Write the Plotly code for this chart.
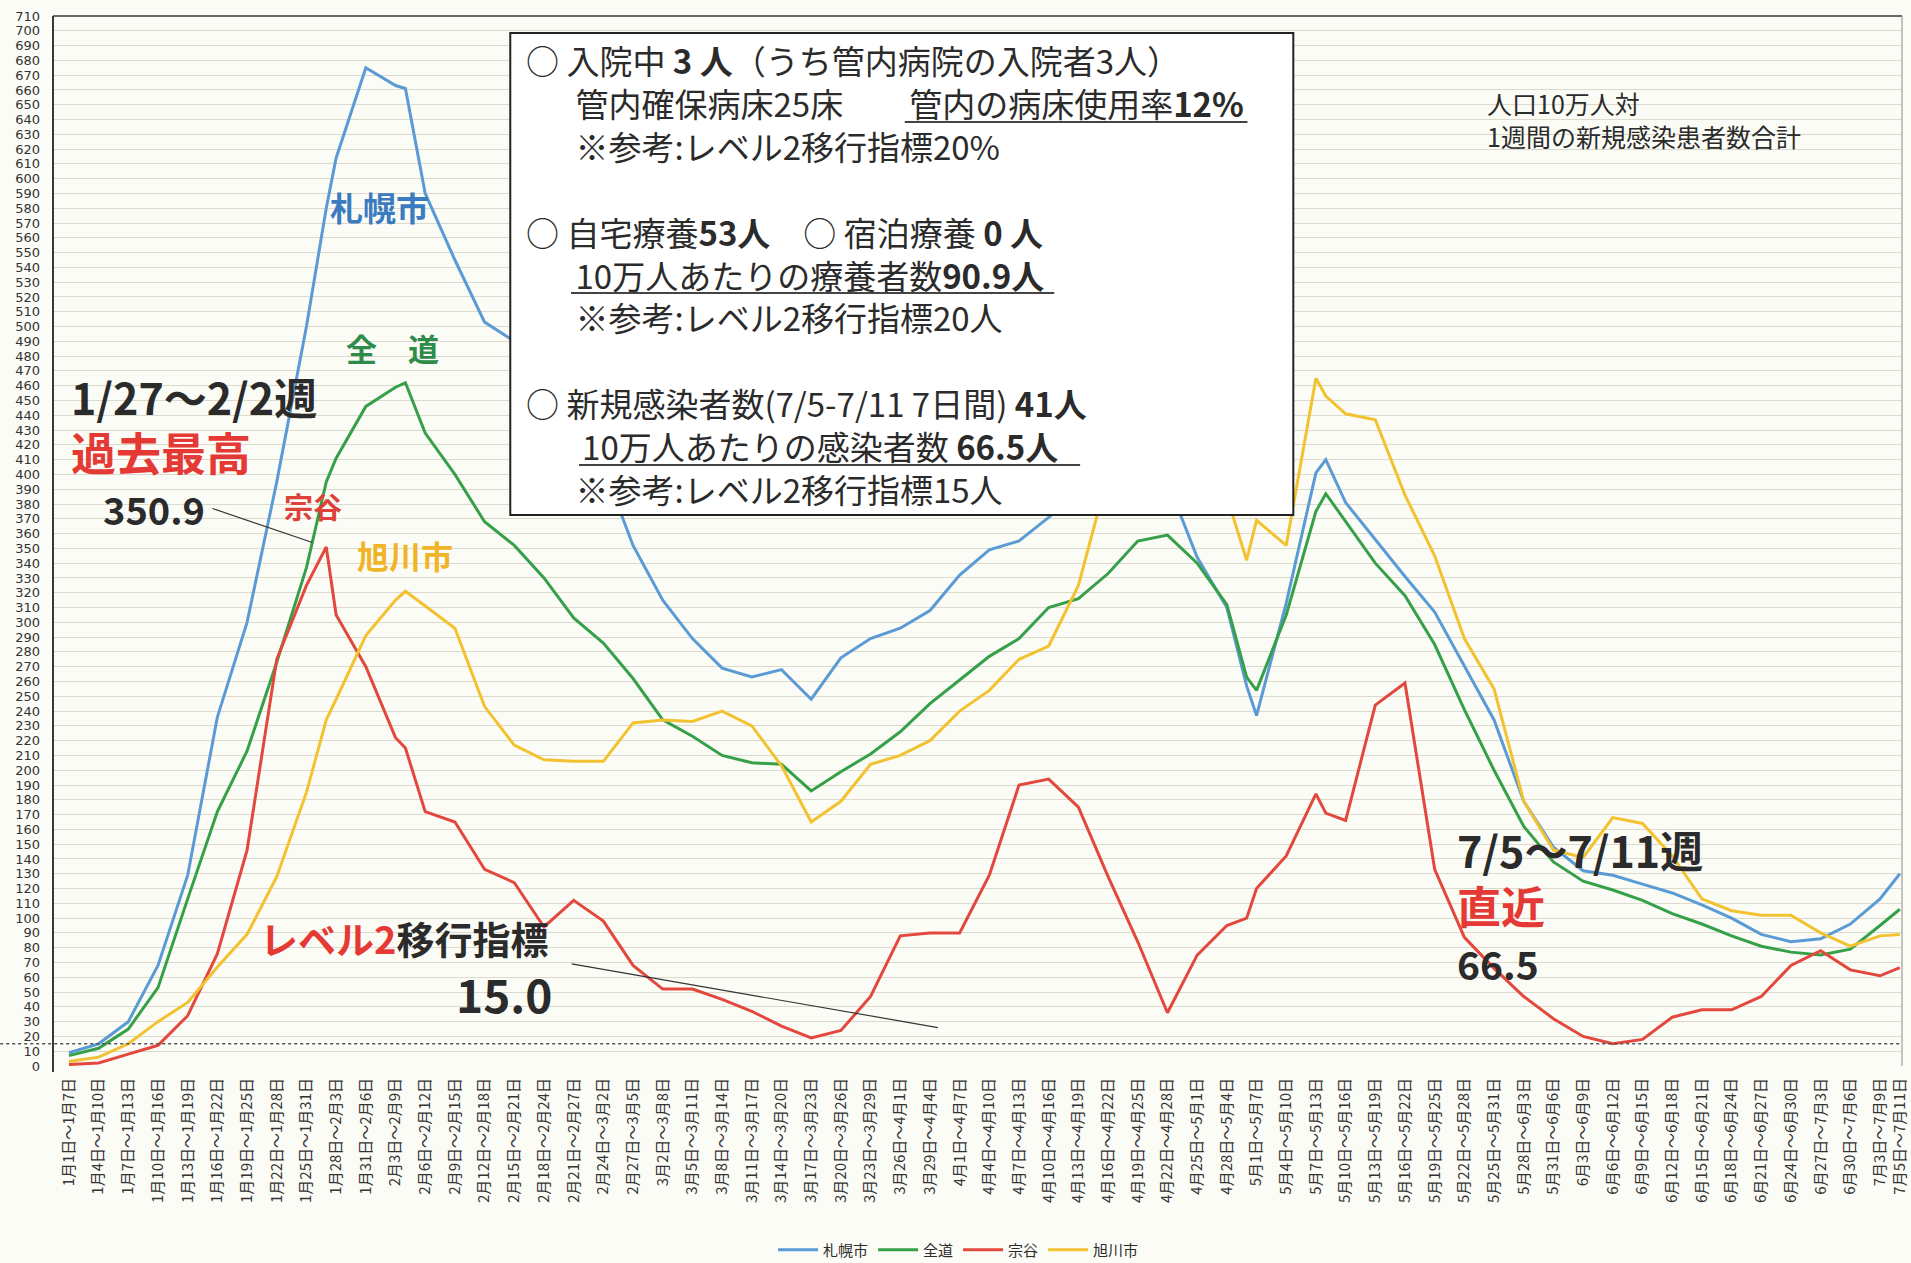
import datetime as dt
import plotly.graph_objects as go

# ---------------- data (window end dates, 7-day totals per 100k) ----------------
end_dates = ["1/7","1/10","1/13","1/16","1/19","1/22","1/25","1/28","1/31","2/2",
             "2/3","2/6","2/9","2/10","2/12","2/15","2/18","2/21","2/24","2/27",
             "3/2","3/5","3/8","3/11","3/14","3/17","3/20","3/23","3/26","3/29",
             "4/1","4/4","4/7","4/10","4/13","4/16","4/19","4/22","4/25","4/28",
             "5/1","5/4","5/6","5/7","5/10","5/13","5/14","5/16","5/19","5/22",
             "5/25","5/28","5/31","6/3","6/6","6/9","6/12","6/15","6/18","6/21",
             "6/24","6/27","6/30","7/3","7/6","7/9","7/11"]

sapporo = [9,15,30,68,129,236,300,395,500,580,
           614,675,663,661,590,545,503,490,470,440,
           405,352,315,289,269,263,268,248,276,289,
           296,308,332,349,355,371,388,400,408,395,
           344,310,257,237,313,401,410,381,356,331,
           307,270,234,179,148,132,129,123,117,109,
           100,89,84,86,96,113,130]
zendo = [7,12,25,53,113,172,213,273,337,395,
         411,446,459,462,428,400,368,352,330,303,
         286,262,234,223,210,205,204,186,199,211,
         226,245,261,277,289,310,316,333,355,359,
         340,312,263,254,305,375,387,368,340,318,
         285,241,200,162,138,125,119,112,103,96,
         88,81,77,75,79,95,106]
soya = [1,2,8,14,34,76,146,275,325,350.9,
        305,270,222,215,172,165,133,124,94,112,
        98,68,52,52,45,37,27,19,24,47,
        88,90,90,129,190,194,175,128,84,36,
        75,95,100,120,142,184,171,166,244,259,
        133,87,66,47,32,20,15,18,33,38,
        38,47,68,78,65,61,66.5]
asahikawa = [3,6,15,30,43,67,89,128,185,234,
             248,291,315,321,311,296,243,217,207,206,
             206,232,234,233,240,230,203,165,179,204,
             210,220,240,254,275,284,325,400,420,425,
             405,385,342,369,352,465,453,441,437,386,
             345,289,255,179,146,141,168,164,142,113,
             105,102,102,90,81,88,89]

series_names = ["札幌市", "全道", "宗谷", "旭川市"]
series_values = [sapporo, zendo, soya, asahikawa]
series_colors = ["#5b9bd5", "#35a048", "#e2483d", "#f2c230"]

# tick label window end dates (every 3 days + latest week)
tick_end_dates = ["1/7","1/10","1/13","1/16","1/19","1/22","1/25","1/28","1/31","2/3",
                  "2/6","2/9","2/12","2/15","2/18","2/21","2/24","2/27","3/2","3/5",
                  "3/8","3/11","3/14","3/17","3/20","3/23","3/26","3/29","4/1","4/4",
                  "4/7","4/10","4/13","4/16","4/19","4/22","4/25","4/28","5/1","5/4",
                  "5/7","5/10","5/13","5/16","5/19","5/22","5/25","5/28","5/31","6/3",
                  "6/6","6/9","6/12","6/15","6/18","6/21","6/24","6/27","6/30","7/3",
                  "7/6","7/9","7/11"]

YEAR = 2021
BASE = dt.date(YEAR, 1, 7)


def to_date(md):
    m, d = md.split("/")
    return dt.date(YEAR, int(m), int(d))


def day_index(md):
    return (to_date(md) - BASE).days


def week_label(md):
    e = to_date(md)
    s = e - dt.timedelta(days=6)
    return f"{s.month}月{s.day}日～{e.month}月{e.day}日"


x_vals = [day_index(d) for d in end_dates]
tick_vals = [day_index(d) for d in tick_end_dates]
tick_text = [week_label(d) for d in tick_end_dates]

# ---------------- layout geometry (pixels) ----------------
W, H = 1911, 1263
L, T, R, B = 53, 16, 2, 197
PW, PH = W - L - R, H - T - B


def px(x):
    return (x - L) / PW


def py(y):
    return 1 - (y - T) / PH


JP = "Noto Sans CJK JP"
DARK = "#2b2b2b"

fig = go.Figure()
for name, vals, col in zip(series_names, series_values, series_colors):
    fig.add_trace(go.Scatter(x=x_vals, y=vals, mode="lines", name=name,
                             line=dict(color=col, width=3)))

shapes = []
# level-2 dotted threshold line (15.0)
shapes.append(dict(type="line", xref="paper", yref="y", x0=px(0), x1=1, y0=15, y1=15,
                   line=dict(color="#555555", width=1.6, dash="dot")))
# frame lines
shapes.append(dict(type="line", xref="paper", yref="paper", x0=0, x1=1, y0=1, y1=1,
                   line=dict(color="#3a3a3a", width=1.6)))
shapes.append(dict(type="line", xref="paper", yref="paper", x0=0, x1=0, y0=py(1072), y1=1,
                   line=dict(color="#3a3a3a", width=2)))
shapes.append(dict(type="line", xref="paper", yref="paper", x0=1, x1=1, y0=0, y1=1,
                   line=dict(color="#8a8a8a", width=1)))
# callout lines
shapes.append(dict(type="line", xref="x", yref="y", x0=14.5, y0=377, x1=24.6, y1=354,
                   line=dict(color="#333333", width=1.2)))
shapes.append(dict(type="line", xref="x", yref="y", x0=50.8, y0=69, x1=87.8, y1=26,
                   line=dict(color="#333333", width=1.2)))
# info box
shapes.append(dict(type="rect", xref="paper", yref="paper", layer="above",
                   x0=px(512), x1=px(1298), y0=py(515), y1=py(33),
                   fillcolor="#ffffff", line=dict(color="#222222", width=2)))
# underlines in the box
for x0, x1, y in [(908, 1252, 122), (573, 1058, 293), (581, 1084, 465)]:
    shapes.append(dict(type="line", xref="paper", yref="paper", layer="above",
                       x0=px(x0), x1=px(x1), y0=py(y), y1=py(y),
                       line=dict(color="#444444", width=2)))

annotations = []


def txt(x, y, text, size, color=DARK, anchor="left", family=JP):
    annotations.append(dict(xref="paper", yref="paper", x=px(x), y=py(y), text=text,
                            showarrow=False, xanchor=anchor, yanchor="middle",
                            align="left",
                            font=dict(family=family, size=size, color=color)))


# info box text (one block, left aligned)
IND = "\u3000\u2002"
box_lines = [
    "○ 入院中 <b>3 人</b>（うち管内病院の入院者3人）",
    IND + "管内確保病床25床\u3000\u3000管内の病床使用率<b>12%</b>",
    IND + "※参考:レベル2移行指標20%",
    "\u3000",
    "○ 自宅療養<b>53人</b>\u3000○ 宿泊療養 <b>0 人</b>",
    IND + "10万人あたりの療養者数<b>90.9人</b>",
    IND + "※参考:レベル2移行指標20人",
    "\u3000",
    "○ 新規感染者数(7/5-7/11 7日間) <b>41人</b>",
    IND + "\u2009" + "10万人あたりの感染者数 <b>66.5人</b>",
    IND + "※参考:レベル2移行指標15人",
]
txt(526, 274, "<br>".join(box_lines), 33)

# note top right
txt(1490, 119, "人口10万人対<br>1週間の新規感染患者数合計", 25)

# series labels
txt(381, 207, "<b>札幌市</b>", 33, "#3b7cc0", "center")
txt(394, 347, "<b>全　道</b>", 31, "#2e8b4a", "center")
txt(314, 506, "<b>宗谷</b>", 29, "#e0403a", "center")
txt(406, 555, "<b>旭川市</b>", 32, "#f0b429", "center")

# peak annotation
txt(69, 396, "<b>1/27～2/2週</b>", 43)
txt(69, 451, "<b>過去最高</b>", 45, "#e53935")
txt(101, 508, "<b>350.9</b>", 38)

# level-2 annotation
txt(259, 938, "<b><span style='color:#e53935'>レベル2</span>移行指標</b>", 38)
txt(506, 993, "<b>15.0</b>", 46, anchor="center")

# latest week annotation
txt(1460, 849, "<b>7/5～7/11週</b>", 43)
txt(1460, 905, "<b>直近</b>", 44, "#e53935")
txt(1460, 963, "<b>66.5</b>", 39)

fig.update_layout(
    width=W, height=H, autosize=False,
    margin=dict(l=L, r=R, t=T, b=B, pad=0),
    paper_bgcolor="#fcfcf6", plot_bgcolor="#fcfcf6",
    showlegend=True,
    legend=dict(orientation="h", x=px(962), xanchor="center",
                yref="container", y=(H - 1250) / H, yanchor="middle",
                font=dict(family=JP, size=15, color=DARK),
                itemwidth=40, bgcolor="rgba(0,0,0,0)", tracegroupgap=0),
    shapes=shapes, annotations=annotations,
    xaxis=dict(range=[-1.61, 185.22], tickmode="array", tickvals=tick_vals,
               ticktext=tick_text, tickangle=-90, showgrid=False, zeroline=False,
               showline=False, ticks="", ticklabelstandoff=8,
               ticklabeloverflow="allow",
               tickfont=dict(family=JP, size=15, color="#333333")),
    yaxis=dict(range=[0, 710], tick0=0, dtick=10, showgrid=True, gridcolor="#dcdacd",
               gridwidth=1, zeroline=False, showline=False, ticks="",
               ticklabelstandoff=12,
               tickfont=dict(family="DejaVu Sans", size=13, color="#333333")),
)

fig.write_html("out.html", config={"displayModeBar": False},
               post_script="document.body.style.margin='0';")
